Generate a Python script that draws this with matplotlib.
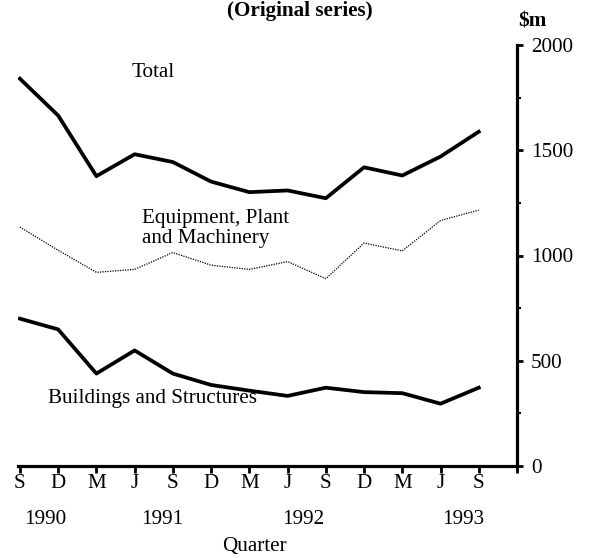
import matplotlib
matplotlib.use("Agg")
import matplotlib.pyplot as plt
from matplotlib.transforms import blended_transform_factory
from matplotlib.ticker import MultipleLocator

quarters = ["S", "D", "M", "J", "S", "D", "M", "J", "S", "D", "M", "J", "S"]
years = ["1990", "1991", "1992", "1993"]
year_pos = [0.65, 3.72, 7.41, 11.6]
total = [1840, 1665, 1377, 1481, 1444, 1351, 1301, 1309, 1272, 1419, 1380, 1470, 1588]
equipment = [1135, 1025, 920, 934, 1014, 954, 934, 971, 890, 1059, 1022, 1166, 1216]
buildings = [700, 649, 439, 549, 439, 385, 358, 333, 372, 351, 346, 296, 372]

plt.rcParams['font.family'] = ['Liberation Serif', 'DejaVu Serif']
FS = 15.2

fig = plt.figure(figsize=(5.91, 5.58), dpi=100)
ax = fig.add_axes([18/591, 1-466/558, (517-18)/591, (466-45)/558])

x = list(range(len(quarters)))
ax.plot(x, total, color='black', lw=2.7, solid_joinstyle='round')
ax.plot(x, buildings, color='black', lw=2.7, solid_joinstyle='round')
ax.plot(x, equipment, color='black', lw=0.9, linestyle=(0, (1, 1)))

ax.set_xlim(-0.05, 13)
ax.set_ylim(0, 2000)

for s in ['top', 'left']:
    ax.spines[s].set_visible(False)
for s in ['bottom', 'right']:
    ax.spines[s].set_linewidth(2.3)

ax.yaxis.tick_right()
ax.yaxis.set_major_locator(MultipleLocator(500))
ax.yaxis.set_minor_locator(MultipleLocator(250))
ax.tick_params(axis='y', which='major', direction='out', length=4, width=2, labelsize=FS, pad=6)
ax.tick_params(axis='y', which='minor', direction='out', length=3, width=1.5)

ax.set_xticks(list(range(len(quarters) + 1)))
ax.set_xticklabels(quarters + [""])
ax.tick_params(axis='x', which='major', direction='out', length=5, width=2, labelsize=FS, pad=1)

tr = blended_transform_factory(ax.transData, fig.transFigure)
for yr, p in zip(years, year_pos):
    ax.text(p, 1-520/558, yr, transform=tr, ha='center', va='center', fontsize=FS)
ax.text(6.13, 1-546/558, "Quarter", transform=tr, ha='center', va='center', fontsize=FS)
ax.text(13.4, 1-21/558, "$m", transform=tr, ha='center', va='center', fontsize=FS, fontweight='bold')
fig.text(300/591, 1-1/558, "(Original series)", ha='center', va='top', fontsize=FS, fontweight='bold')

ax.text(2.93, 1867, "Total", ha='left', va='center', fontsize=FS)
ax.text(3.2, 1130, "Equipment, Plant\nand Machinery", ha='left', va='center', fontsize=FS, linespacing=1.08)
ax.text(0.73, 323, "Buildings and Structures", ha='left', va='center', fontsize=FS)

fig.savefig("out.png", dpi=100)
